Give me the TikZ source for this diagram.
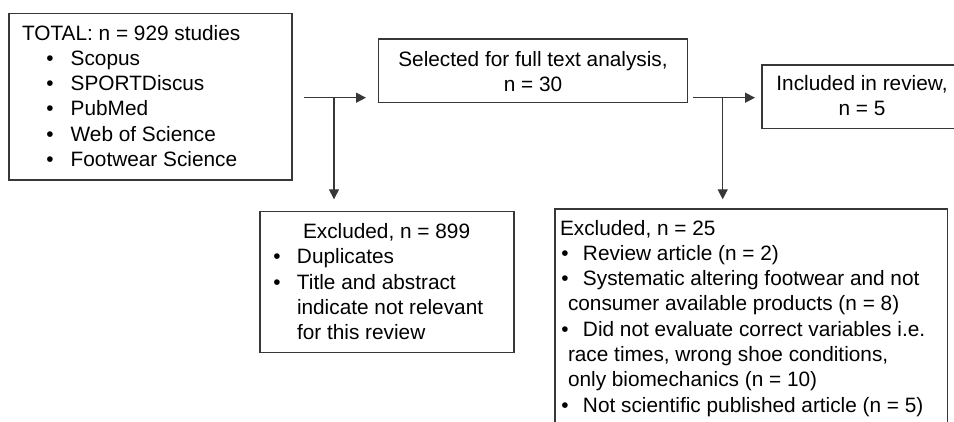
\documentclass[tikz,border=0pt]{standalone}
\usepackage{fontspec}
\setmainfont{Liberation Sans}
\usetikzlibrary{arrows.meta}
\definecolor{linec}{RGB}{55,55,55}
\newcommand\bl[3]{\hbox{\hspace*{#1}\makebox[0pt]{\textbullet}\hspace*{#2}#3}}
\newcommand\pl[2]{\hbox{\hspace*{#1}#2}}
\newcommand\cl[1]{\hbox to 0pt{\hss #1\hss}}
\newcommand\lines[1]{\vtop{\baselineskip=25.3pt\lineskiplimit=-100pt\lineskip=0pt #1}}
\begin{document}
\begin{tikzpicture}[x=1pt,y=-1pt,
  box/.style={draw=linec, line width=1.3pt, inner sep=0pt, outer sep=0pt, anchor=north west},
  txt/.style={inner sep=0pt, outer sep=0pt, anchor=base west, font=\fontsize{20.8}{25.3}\selectfont, text=black},
  ctxt/.style={txt, anchor=base},
  arr/.style={draw=linec, line width=1.3pt, -{Triangle[length=10pt,width=10pt]}}]
\fill[white] (0,0) rectangle (954,421);
\clip (0,0) rectangle (954,421);
% boxes
\node[box, minimum width=283pt, minimum height=166.7pt] (total) at (9,13.3) {};
\node[box, minimum width=309.4pt, minimum height=63.7pt] (sel) at (378.3,39) {};
\node[box, minimum width=200pt, minimum height=63.3pt] (inc) at (762,65) {};
\node[box, minimum width=254pt, minimum height=140.6pt] (exa) at (260,211.7) {};
\node[box, minimum width=392.3pt, minimum height=240pt] (exb) at (555,209) {};
% texts
\node[txt] (ttot) at (22,40) {\lines{%
  \pl{0pt}{TOTAL: n = 929 studies}%
  \bl{28pt}{20.7pt}{Scopus}%
  \bl{28pt}{20.7pt}{SPORTDiscus}%
  \bl{28pt}{20.7pt}{PubMed}%
  \bl{28pt}{20.7pt}{Web of Science}%
  \bl{28pt}{20.7pt}{Footwear Science}}};
\node[ctxt] (tsel) at (533,66) {\lines{%
  \cl{Selected for full text analysis,}%
  \cl{n = 30}}};
\node[ctxt] (tinc) at (862,90) {\lines{%
  \cl{Included in review,}%
  \cl{n = 5}}};
\node[txt] (texa) at (260,238.5) {\lines{%
  \pl{43pt}{Excluded, n = 899}%
  \bl{17pt}{20pt}{Duplicates}%
  \bl{17pt}{20pt}{Title and abstract}%
  \pl{37pt}{indicate not relevant}%
  \pl{37pt}{for this review}}};
\node[txt] (texb) at (555,235) {\lines{%
  \pl{5pt}{Excluded, n = 25}%
  \bl{10pt}{18pt}{Review article (n = 2)}%
  \bl{10pt}{18pt}{Systematic altering footwear and not}%
  \pl{13pt}{consumer available products (n = 8)}%
  \bl{10pt}{18pt}{Did not evaluate correct variables i.e.}%
  \pl{13pt}{race times, wrong shoe conditions,}%
  \pl{13pt}{only biomechanics (n = 10)}%
  \bl{10pt}{18pt}{Not scientific published article (n = 5)}}};
% connector points
\coordinate (h1s) at (304,97.7);
\coordinate (h1e) at (366,97.7);
\coordinate (j1) at (334,97.7);
\coordinate (v1e) at (334,199.3);
\coordinate (h2s) at (693.3,97.7);
\coordinate (h2e) at (755,97.7);
\coordinate (j2) at (722.7,97.7);
\coordinate (v2e) at (722.7,199.3);
\draw[arr] (h1s) -- (h1e);
\draw[arr] (j1) -- (v1e);
\draw[arr] (h2s) -- (h2e);
\draw[arr] (j2) -- (v2e);
\end{tikzpicture}
\end{document}
